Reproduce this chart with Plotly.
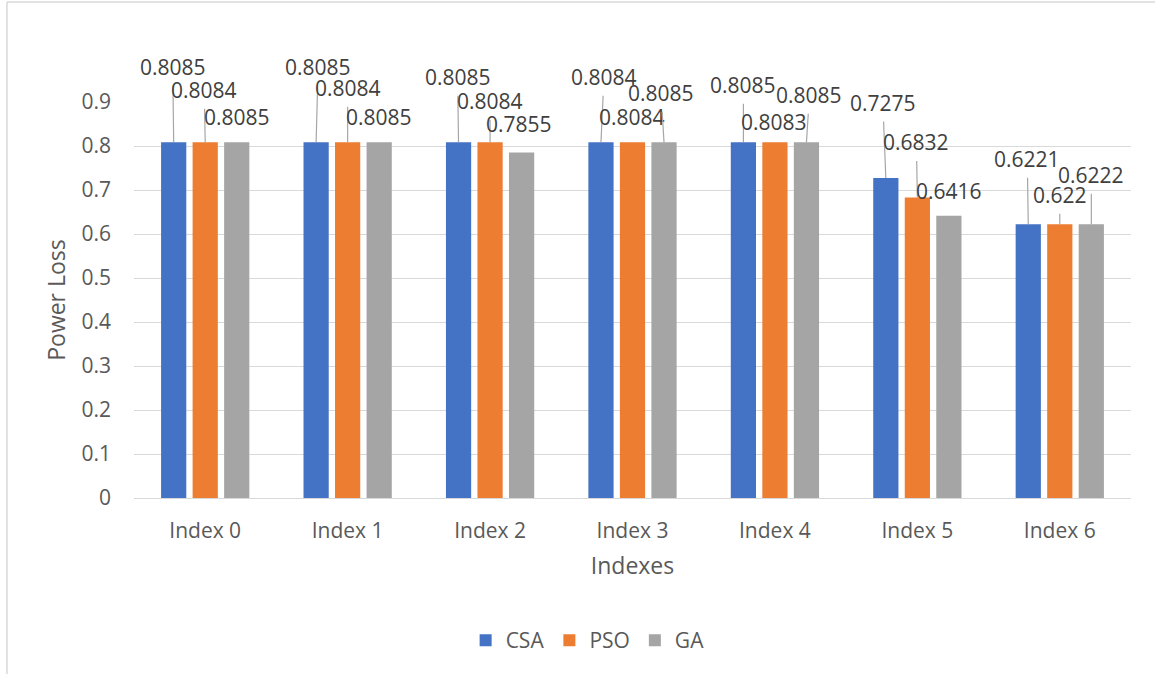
import plotly.graph_objects as go

categories = ["Index 0", "Index 1", "Index 2", "Index 3", "Index 4", "Index 5", "Index 6"]
csa = [0.8085, 0.8085, 0.8085, 0.8084, 0.8085, 0.7275, 0.6221]
pso = [0.8084, 0.8084, 0.8084, 0.8084, 0.8083, 0.6832, 0.622]
ga = [0.8085, 0.8085, 0.7855, 0.8085, 0.8085, 0.6416, 0.6222]
series_names = ["CSA", "PSO", "GA"]
series_values = [csa, pso, ga]
colors = ["#4472C4", "#ED7D31", "#A5A5A5"]
y_tick_values = [0, 0.1, 0.2, 0.3, 0.4, 0.5, 0.6, 0.7, 0.8, 0.9]
y_tick_labels = ["0", "0.1", "0.2", "0.3", "0.4", "0.5", "0.6", "0.7", "0.8", "0.9"]

# data-label placement (pixel offset of label centre from bar top, leader line shown?)
label_layout = [
    [(-1, -75, True), (-1, -52, True), (0, -25, False)],
    [(2, -75, True), (0, -54, True), (0, -25, False)],
    [(-1, -65, True), (0, -41, True), (-3, -28, False)],
    [(3, -65, True), (-1, -25, False), (-3, -49, True)],
    [(0, -57, True), (-1, -20, False), (3, -47, True)],
    [(-3, -75, True), (-1, -55, True), (0, -25, False)],
    [(-1, -65, True), (0, -29, True), (0, -49, True)],
]

BARGAP = 0.336
BARGROUPGAP = 0.2
FONT = "Open Sans"
TXT = "#595959"

fig = go.Figure()
for name, vals, col in zip(series_names, series_values, colors):
    fig.add_trace(go.Bar(x=categories, y=vals, name=name, marker=dict(color=col, line=dict(width=0))))

slot = (1 - BARGAP) / len(series_names)
annotations = []
for i, cat in enumerate(categories):
    for j, vals in enumerate(series_values):
        dx, dy, leader = label_layout[i][j]
        xpos = i + (j - 1) * slot
        label = f"{vals[i]:g}"
        if leader:
            annotations.append(dict(
                x=xpos, y=vals[i], xref="x", yref="y", text=label,
                showarrow=True, arrowhead=0, arrowwidth=1.2, arrowcolor="#A6A6A6",
                ax=dx, ay=dy, standoff=0, borderpad=4,
                font=dict(family=FONT, size=21, color="#404040"),
            ))
        else:
            annotations.append(dict(
                x=xpos, y=vals[i], xref="x", yref="y", text=label,
                showarrow=False, xshift=dx, yshift=-dy,
                font=dict(family=FONT, size=21, color="#404040"),
            ))

fig.update_layout(
    width=1155, height=674,
    margin=dict(l=134, r=24, t=102, b=176),
    paper_bgcolor="white", plot_bgcolor="white",
    barmode="group", bargap=BARGAP, bargroupgap=BARGROUPGAP,
    font=dict(family=FONT, size=21, color=TXT),
    showlegend=True,
    legend=dict(orientation="h", x=0.455, xanchor="center", y=-0.36, yanchor="middle",
                font=dict(family=FONT, size=21, color=TXT), itemwidth=30,
                bgcolor="rgba(0,0,0,0)"),
    annotations=annotations,
    shapes=[
        dict(type="line", xref="paper", yref="paper", x0=-0.1274, x1=-0.1274, y0=1.2525, y1=-0.5,
             line=dict(color="#D9D9D9", width=1.5)),
        dict(type="line", xref="paper", yref="paper", x0=-0.1274, x1=1.03, y0=1.2525, y1=1.2525,
             line=dict(color="#D9D9D9", width=1.5)),
    ],
)
fig.update_yaxes(
    range=[0, 0.9], tickmode="array", tickvals=y_tick_values, ticktext=y_tick_labels,
    showgrid=True, gridcolor="#D9D9D9", gridwidth=1.3, automargin=False,
    zeroline=False, showline=False, ticks="", ticklabelstandoff=22,
    tickfont=dict(family=FONT, size=21, color=TXT),
    title=dict(text="Power Loss", font=dict(family=FONT, size=23, color=TXT), standoff=9),
)
fig.update_xaxes(
    showline=True, linecolor="#D9D9D9", linewidth=1.3, ticks="", automargin=False,
    ticklabelstandoff=14,
    tickfont=dict(family=FONT, size=21, color=TXT),
    title=dict(text="Indexes", font=dict(family=FONT, size=23, color=TXT), standoff=14),
)

fig.write_html("out.html")
